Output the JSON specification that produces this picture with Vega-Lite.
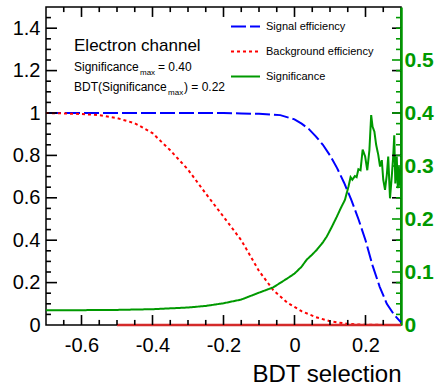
{
  "$schema": "https://vega.github.io/schema/vega-lite/v6.json",
  "width": 355,
  "height": 318,
  "autosize": {"type": "none"},
  "padding": {"left": 46, "top": 7, "right": 35, "bottom": 61},
  "background": "white",
  "config": {
    "font": "Liberation Sans",
    "view": {"stroke": "black", "strokeWidth": 1.5},
    "axis": {"grid": false, "domain": false, "ticks": false, "labelColor": "black", "labelFont": "Liberation Sans"},
    "legend": {
      "orient": "none", "legendX": 184, "legendY": 4, "direction": "vertical",
      "symbolType": "stroke", "symbolSize": 841, "symbolStrokeWidth": 2,
      "labelFont": "Liberation Sans", "labelFontSize": 11, "labelColor": "black",
      "labelOffset": 5, "rowPadding": 4, "padding": 0
    }
  },
  "datasets": {
    "xticks": [
      {"v": -0.65, "kind": "minor"}, {"v": -0.6, "kind": "major"}, {"v": -0.55, "kind": "minor"}, {"v": -0.5, "kind": "minor"},
      {"v": -0.45, "kind": "minor"}, {"v": -0.4, "kind": "major"}, {"v": -0.35, "kind": "minor"}, {"v": -0.3, "kind": "minor"},
      {"v": -0.25, "kind": "minor"}, {"v": -0.2, "kind": "major"}, {"v": -0.15, "kind": "minor"}, {"v": -0.1, "kind": "minor"},
      {"v": -0.05, "kind": "minor"}, {"v": 0, "kind": "major"}, {"v": 0.05, "kind": "minor"}, {"v": 0.1, "kind": "minor"},
      {"v": 0.15, "kind": "minor"}, {"v": 0.2, "kind": "major"}, {"v": 0.25, "kind": "minor"}
    ],
    "lticks": [
      {"v": 0.05, "kind": "minor"}, {"v": 0.1, "kind": "minor"}, {"v": 0.15, "kind": "minor"}, {"v": 0.2, "kind": "major"},
      {"v": 0.25, "kind": "minor"}, {"v": 0.3, "kind": "minor"}, {"v": 0.35, "kind": "minor"}, {"v": 0.4, "kind": "major"},
      {"v": 0.45, "kind": "minor"}, {"v": 0.5, "kind": "minor"}, {"v": 0.55, "kind": "minor"}, {"v": 0.6, "kind": "major"},
      {"v": 0.65, "kind": "minor"}, {"v": 0.7, "kind": "minor"}, {"v": 0.75, "kind": "minor"}, {"v": 0.8, "kind": "major"},
      {"v": 0.85, "kind": "minor"}, {"v": 0.9, "kind": "minor"}, {"v": 0.95, "kind": "minor"}, {"v": 1.0, "kind": "major"},
      {"v": 1.05, "kind": "minor"}, {"v": 1.1, "kind": "minor"}, {"v": 1.15, "kind": "minor"}, {"v": 1.2, "kind": "major"},
      {"v": 1.25, "kind": "minor"}, {"v": 1.3, "kind": "minor"}, {"v": 1.35, "kind": "minor"}, {"v": 1.4, "kind": "major"},
      {"v": 1.45, "kind": "minor"}
    ],
    "rticks": [
      {"v": 0.02, "kind": "minor"}, {"v": 0.04, "kind": "minor"}, {"v": 0.06, "kind": "minor"}, {"v": 0.08, "kind": "minor"}, {"v": 0.1, "kind": "major"},
      {"v": 0.12, "kind": "minor"}, {"v": 0.14, "kind": "minor"}, {"v": 0.16, "kind": "minor"}, {"v": 0.18, "kind": "minor"}, {"v": 0.2, "kind": "major"},
      {"v": 0.22, "kind": "minor"}, {"v": 0.24, "kind": "minor"}, {"v": 0.26, "kind": "minor"}, {"v": 0.28, "kind": "minor"}, {"v": 0.3, "kind": "major"},
      {"v": 0.32, "kind": "minor"}, {"v": 0.34, "kind": "minor"}, {"v": 0.36, "kind": "minor"}, {"v": 0.38, "kind": "minor"}, {"v": 0.4, "kind": "major"},
      {"v": 0.42, "kind": "minor"}, {"v": 0.44, "kind": "minor"}, {"v": 0.46, "kind": "minor"}, {"v": 0.48, "kind": "minor"}, {"v": 0.5, "kind": "major"},
      {"v": 0.52, "kind": "minor"}, {"v": 0.54, "kind": "minor"}, {"v": 0.56, "kind": "minor"}, {"v": 0.58, "kind": "minor"}
    ],
    "curves": [
      {"series": "Signal efficiency", "x": -0.7, "v": 1.0},
      {"series": "Signal efficiency", "x": -0.5, "v": 1.0},
      {"series": "Signal efficiency", "x": -0.3, "v": 1.0},
      {"series": "Signal efficiency", "x": -0.2, "v": 0.9995},
      {"series": "Signal efficiency", "x": -0.15, "v": 0.998},
      {"series": "Signal efficiency", "x": -0.1, "v": 0.996},
      {"series": "Signal efficiency", "x": -0.04, "v": 0.99},
      {"series": "Signal efficiency", "x": 0.0, "v": 0.97},
      {"series": "Signal efficiency", "x": 0.02, "v": 0.95},
      {"series": "Signal efficiency", "x": 0.04, "v": 0.925},
      {"series": "Signal efficiency", "x": 0.06, "v": 0.89},
      {"series": "Signal efficiency", "x": 0.08, "v": 0.85},
      {"series": "Signal efficiency", "x": 0.1, "v": 0.80},
      {"series": "Signal efficiency", "x": 0.12, "v": 0.74},
      {"series": "Signal efficiency", "x": 0.14, "v": 0.67},
      {"series": "Signal efficiency", "x": 0.16, "v": 0.59},
      {"series": "Signal efficiency", "x": 0.18, "v": 0.50},
      {"series": "Signal efficiency", "x": 0.2, "v": 0.40},
      {"series": "Signal efficiency", "x": 0.22, "v": 0.28},
      {"series": "Signal efficiency", "x": 0.24, "v": 0.18},
      {"series": "Signal efficiency", "x": 0.26, "v": 0.10},
      {"series": "Signal efficiency", "x": 0.28, "v": 0.05},
      {"series": "Signal efficiency", "x": 0.3, "v": 0.012},
      {"series": "Background efficiency", "x": -0.7, "v": 1.0},
      {"series": "Background efficiency", "x": -0.65, "v": 0.998},
      {"series": "Background efficiency", "x": -0.6, "v": 0.995},
      {"series": "Background efficiency", "x": -0.55, "v": 0.99},
      {"series": "Background efficiency", "x": -0.5, "v": 0.976},
      {"series": "Background efficiency", "x": -0.45, "v": 0.952},
      {"series": "Background efficiency", "x": -0.4, "v": 0.905},
      {"series": "Background efficiency", "x": -0.35, "v": 0.824},
      {"series": "Background efficiency", "x": -0.3, "v": 0.733},
      {"series": "Background efficiency", "x": -0.25, "v": 0.62},
      {"series": "Background efficiency", "x": -0.2, "v": 0.511},
      {"series": "Background efficiency", "x": -0.15, "v": 0.40},
      {"series": "Background efficiency", "x": -0.1, "v": 0.255},
      {"series": "Background efficiency", "x": -0.06, "v": 0.165},
      {"series": "Background efficiency", "x": -0.02, "v": 0.105},
      {"series": "Background efficiency", "x": 0.02, "v": 0.065},
      {"series": "Background efficiency", "x": 0.06, "v": 0.037},
      {"series": "Background efficiency", "x": 0.1, "v": 0.018},
      {"series": "Background efficiency", "x": 0.15, "v": 0.005},
      {"series": "Background efficiency", "x": 0.2, "v": 0.001},
      {"series": "Background efficiency", "x": 0.3, "v": 0.0},
      {"series": "Significance", "x": -0.7, "v": 0.028},
      {"series": "Significance", "x": -0.6, "v": 0.028},
      {"series": "Significance", "x": -0.5, "v": 0.0285},
      {"series": "Significance", "x": -0.4, "v": 0.0298},
      {"series": "Significance", "x": -0.3, "v": 0.033},
      {"series": "Significance", "x": -0.25, "v": 0.036},
      {"series": "Significance", "x": -0.2, "v": 0.041},
      {"series": "Significance", "x": -0.15, "v": 0.048},
      {"series": "Significance", "x": -0.1, "v": 0.061},
      {"series": "Significance", "x": -0.06, "v": 0.071},
      {"series": "Significance", "x": -0.02, "v": 0.088},
      {"series": "Significance", "x": 0.0, "v": 0.097},
      {"series": "Significance", "x": 0.02, "v": 0.11},
      {"series": "Significance", "x": 0.034, "v": 0.123},
      {"series": "Significance", "x": 0.05, "v": 0.133},
      {"series": "Significance", "x": 0.063, "v": 0.142},
      {"series": "Significance", "x": 0.08, "v": 0.156},
      {"series": "Significance", "x": 0.091, "v": 0.167},
      {"series": "Significance", "x": 0.105, "v": 0.185},
      {"series": "Significance", "x": 0.119, "v": 0.204},
      {"series": "Significance", "x": 0.13, "v": 0.22},
      {"series": "Significance", "x": 0.142, "v": 0.236},
      {"series": "Significance", "x": 0.152, "v": 0.261},
      {"series": "Significance", "x": 0.158, "v": 0.279},
      {"series": "Significance", "x": 0.163, "v": 0.274},
      {"series": "Significance", "x": 0.17, "v": 0.281},
      {"series": "Significance", "x": 0.175, "v": 0.279},
      {"series": "Significance", "x": 0.18, "v": 0.294},
      {"series": "Significance", "x": 0.186, "v": 0.292},
      {"series": "Significance", "x": 0.192, "v": 0.331},
      {"series": "Significance", "x": 0.199, "v": 0.318},
      {"series": "Significance", "x": 0.205, "v": 0.292},
      {"series": "Significance", "x": 0.211, "v": 0.33},
      {"series": "Significance", "x": 0.216, "v": 0.396},
      {"series": "Significance", "x": 0.22, "v": 0.374},
      {"series": "Significance", "x": 0.225, "v": 0.365},
      {"series": "Significance", "x": 0.23, "v": 0.34},
      {"series": "Significance", "x": 0.236, "v": 0.321},
      {"series": "Significance", "x": 0.241, "v": 0.299},
      {"series": "Significance", "x": 0.246, "v": 0.311},
      {"series": "Significance", "x": 0.25, "v": 0.274},
      {"series": "Significance", "x": 0.255, "v": 0.255},
      {"series": "Significance", "x": 0.26, "v": 0.283},
      {"series": "Significance", "x": 0.264, "v": 0.318},
      {"series": "Significance", "x": 0.269, "v": 0.239},
      {"series": "Significance", "x": 0.274, "v": 0.28},
      {"series": "Significance", "x": 0.278, "v": 0.318},
      {"series": "Significance", "x": 0.281, "v": 0.358},
      {"series": "Significance", "x": 0.284, "v": 0.267},
      {"series": "Significance", "x": 0.288, "v": 0.318},
      {"series": "Significance", "x": 0.291, "v": 0.258},
      {"series": "Significance", "x": 0.294, "v": 0.299},
      {"series": "Significance", "x": 0.296, "v": 0.267},
      {"series": "Significance", "x": 0.299, "v": 0.26}
    ],
    "zero": [
      {"x": -0.5, "v": 0},
      {"x": 0.3, "v": 0}
    ],
    "title": [
      {"x": -0.6211, "y": 1.294, "t": "Electron channel"}
    ],
    "notes": [
      {"x": -0.6211, "y": 1.198, "t": "Significance"},
      {"x": -0.3845, "y": 1.198, "t": "= 0.40"},
      {"x": -0.6211, "y": 1.102, "t": "BDT(Significance"},
      {"x": -0.3113, "y": 1.102, "t": ") = 0.22"}
    ],
    "subs": [
      {"x": -0.4352, "y": 1.181, "t": "max"},
      {"x": -0.3563, "y": 1.083, "t": "max"}
    ]
  },
  "layer": [
    {
      "data": {"name": "curves"},
      "transform": [{"filter": "datum.series == 'Signal efficiency'"}],
      "mark": {"type": "line", "strokeWidth": 2},
      "encoding": {
        "x": {"field": "x", "type": "quantitative", "scale": {"domain": [-0.7, 0.3], "nice": false, "zero": false},
          "axis": {"orient": "bottom", "values": [-0.6, -0.4, -0.2, 0, 0.2], "labelFontSize": 20, "labelPadding": 10,
            "labelExpr": "toString(datum.value)", "title": "BDT selection", "titleFontSize": 24, "titleFontWeight": "normal",
            "titleFont": "Liberation Sans", "titleColor": "black", "titleAlign": "right", "titleAnchor": "end", "titleX": 355, "titleY": 56, "titleBaseline": "alphabetic"}},
        "y": {"field": "v", "type": "quantitative", "scale": {"domain": [0, 1.5], "nice": false},
          "axis": {"orient": "left", "values": [0, 0.2, 0.4, 0.6, 0.8, 1, 1.2, 1.4], "labelFontSize": 20, "labelPadding": 6,
            "labelExpr": "toString(datum.value)", "title": null}},
        "color": {"field": "series", "type": "nominal", "title": null,
          "scale": {"domain": ["Signal efficiency", "Background efficiency", "Significance"], "range": ["#0000ff", "#ff0000", "#009900"]}},
        "strokeDash": {"field": "series", "type": "nominal", "title": null,
          "scale": {"domain": ["Signal efficiency", "Background efficiency", "Significance"], "range": [[15, 4], [3, 3], [1, 0]]}}
      }
    },
    {
      "data": {"name": "curves"},
      "transform": [{"filter": "datum.series == 'Background efficiency'"}],
      "mark": {"type": "line", "strokeWidth": 2},
      "encoding": {
        "x": {"field": "x", "type": "quantitative", "scale": {"domain": [-0.7, 0.3], "nice": false, "zero": false}, "axis": null},
        "y": {"field": "v", "type": "quantitative", "scale": {"domain": [0, 1.5], "nice": false}, "axis": null},
        "color": {"field": "series", "type": "nominal", "title": null,
          "scale": {"domain": ["Signal efficiency", "Background efficiency", "Significance"], "range": ["#0000ff", "#ff0000", "#009900"]}},
        "strokeDash": {"field": "series", "type": "nominal", "title": null,
          "scale": {"domain": ["Signal efficiency", "Background efficiency", "Significance"], "range": [[15, 4], [3, 3], [1, 0]]}}
      }
    },
    {
      "data": {"name": "curves"},
      "transform": [{"filter": "datum.series == 'Significance'"}],
      "mark": {"type": "line", "strokeWidth": 2},
      "encoding": {
        "x": {"field": "x", "type": "quantitative", "scale": {"domain": [-0.7, 0.3], "nice": false, "zero": false}, "axis": null},
        "y": {"field": "v", "type": "quantitative", "scale": {"domain": [0, 0.6], "nice": false},
          "axis": {"orient": "right", "values": [0, 0.1, 0.2, 0.3, 0.4, 0.5], "labelColor": "#009900",
            "labelFontWeight": "bold", "labelFontSize": 21, "labelPadding": 3, "labelExpr": "toString(datum.value)",
            "domain": true, "domainColor": "#009900", "domainWidth": 2.5, "title": null}},
        "color": {"field": "series", "type": "nominal", "title": null,
          "scale": {"domain": ["Signal efficiency", "Background efficiency", "Significance"], "range": ["#0000ff", "#ff0000", "#009900"]}},
        "strokeDash": {"field": "series", "type": "nominal", "title": null,
          "scale": {"domain": ["Signal efficiency", "Background efficiency", "Significance"], "range": [[15, 4], [3, 3], [1, 0]]}}
      }
    },
    {
      "data": {"name": "zero"},
      "mark": {"type": "line", "strokeWidth": 2.5, "color": "#d42a2a"},
      "encoding": {
        "x": {"field": "x", "type": "quantitative", "scale": {"domain": [-0.7, 0.3], "nice": false, "zero": false}, "axis": null},
        "y": {"field": "v", "type": "quantitative", "scale": {"domain": [0, 1.5], "nice": false}, "axis": null}
      }
    },
    {
      "data": {"name": "xticks"},
      "transform": [{"filter": "datum.kind == 'major'"}],
      "mark": {"type": "rule", "color": "#000000", "strokeWidth": 1.6},
      "encoding": {
        "x": {"field": "v", "type": "quantitative", "scale": {"domain": [-0.7, 0.3], "nice": false, "zero": false}, "axis": null},
        "y": {"datum": 0, "type": "quantitative", "scale": {"domain": [0, 1.5], "nice": false}, "axis": null},
        "y2": {"datum": 0.047}
      }
    },
    {
      "data": {"name": "xticks"},
      "transform": [{"filter": "datum.kind == 'minor'"}],
      "mark": {"type": "rule", "color": "#000000", "strokeWidth": 1.6},
      "encoding": {
        "x": {"field": "v", "type": "quantitative", "scale": {"domain": [-0.7, 0.3], "nice": false, "zero": false}, "axis": null},
        "y": {"datum": 0, "type": "quantitative", "scale": {"domain": [0, 1.5], "nice": false}, "axis": null},
        "y2": {"datum": 0.024}
      }
    },
    {
      "data": {"name": "xticks"},
      "transform": [{"filter": "datum.kind == 'major'"}],
      "mark": {"type": "rule", "color": "#000000", "strokeWidth": 1.6},
      "encoding": {
        "x": {"field": "v", "type": "quantitative", "scale": {"domain": [-0.7, 0.3], "nice": false, "zero": false}, "axis": null},
        "y": {"datum": 1.5, "type": "quantitative", "scale": {"domain": [0, 1.5], "nice": false}, "axis": null},
        "y2": {"datum": 1.453}
      }
    },
    {
      "data": {"name": "xticks"},
      "transform": [{"filter": "datum.kind == 'minor'"}],
      "mark": {"type": "rule", "color": "#000000", "strokeWidth": 1.6},
      "encoding": {
        "x": {"field": "v", "type": "quantitative", "scale": {"domain": [-0.7, 0.3], "nice": false, "zero": false}, "axis": null},
        "y": {"datum": 1.5, "type": "quantitative", "scale": {"domain": [0, 1.5], "nice": false}, "axis": null},
        "y2": {"datum": 1.476}
      }
    },
    {
      "data": {"name": "lticks"},
      "transform": [{"filter": "datum.kind == 'major'"}],
      "mark": {"type": "rule", "color": "#000000", "strokeWidth": 1.6},
      "encoding": {
        "x": {"datum": -0.7, "type": "quantitative", "scale": {"domain": [-0.7, 0.3], "nice": false, "zero": false}, "axis": null},
        "x2": {"datum": -0.669},
        "y": {"field": "v", "type": "quantitative", "scale": {"domain": [0, 1.5], "nice": false}, "axis": null}
      }
    },
    {
      "data": {"name": "lticks"},
      "transform": [{"filter": "datum.kind == 'minor'"}],
      "mark": {"type": "rule", "color": "#000000", "strokeWidth": 1.6},
      "encoding": {
        "x": {"datum": -0.7, "type": "quantitative", "scale": {"domain": [-0.7, 0.3], "nice": false, "zero": false}, "axis": null},
        "x2": {"datum": -0.686},
        "y": {"field": "v", "type": "quantitative", "scale": {"domain": [0, 1.5], "nice": false}, "axis": null}
      }
    },
    {
      "data": {"name": "lticks"},
      "transform": [{"filter": "datum.kind == 'major'"}],
      "mark": {"type": "rule", "color": "#000000", "strokeWidth": 1.6},
      "encoding": {
        "x": {"datum": 0.3, "type": "quantitative", "scale": {"domain": [-0.7, 0.3], "nice": false, "zero": false}, "axis": null},
        "x2": {"datum": 0.2746},
        "y": {"field": "v", "type": "quantitative", "scale": {"domain": [0, 1.5], "nice": false}, "axis": null}
      }
    },
    {
      "data": {"name": "rticks"},
      "transform": [{"filter": "datum.kind == 'major'"}],
      "mark": {"type": "rule", "color": "#009900", "strokeWidth": 1.6},
      "encoding": {
        "x": {"datum": 0.3, "type": "quantitative", "scale": {"domain": [-0.7, 0.3], "nice": false, "zero": false}, "axis": null},
        "x2": {"datum": 0.2746},
        "y": {"field": "v", "type": "quantitative", "scale": {"domain": [0, 0.6], "nice": false}, "axis": null}
      }
    },
    {
      "data": {"name": "rticks"},
      "transform": [{"filter": "datum.kind == 'minor'"}],
      "mark": {"type": "rule", "color": "#009900", "strokeWidth": 1.6},
      "encoding": {
        "x": {"datum": 0.3, "type": "quantitative", "scale": {"domain": [-0.7, 0.3], "nice": false, "zero": false}, "axis": null},
        "x2": {"datum": 0.2859},
        "y": {"field": "v", "type": "quantitative", "scale": {"domain": [0, 0.6], "nice": false}, "axis": null}
      }
    },
    {
      "data": {"name": "title"},
      "mark": {"type": "text", "align": "left", "baseline": "alphabetic", "fontSize": 17, "font": "Liberation Sans", "color": "black"},
      "encoding": {
        "x": {"field": "x", "type": "quantitative", "scale": {"domain": [-0.7, 0.3], "nice": false, "zero": false}, "axis": null},
        "y": {"field": "y", "type": "quantitative", "scale": {"domain": [0, 1.5], "nice": false}, "axis": null},
        "text": {"field": "t"}
      }
    },
    {
      "data": {"name": "notes"},
      "mark": {"type": "text", "align": "left", "baseline": "alphabetic", "fontSize": 12, "font": "Liberation Sans", "color": "black"},
      "encoding": {
        "x": {"field": "x", "type": "quantitative", "scale": {"domain": [-0.7, 0.3], "nice": false, "zero": false}, "axis": null},
        "y": {"field": "y", "type": "quantitative", "scale": {"domain": [0, 1.5], "nice": false}, "axis": null},
        "text": {"field": "t"}
      }
    },
    {
      "data": {"name": "subs"},
      "mark": {"type": "text", "align": "left", "baseline": "alphabetic", "fontSize": 8, "font": "Liberation Sans", "color": "black"},
      "encoding": {
        "x": {"field": "x", "type": "quantitative", "scale": {"domain": [-0.7, 0.3], "nice": false, "zero": false}, "axis": null},
        "y": {"field": "y", "type": "quantitative", "scale": {"domain": [0, 1.5], "nice": false}, "axis": null},
        "text": {"field": "t"}
      }
    }
  ],
  "resolve": {"scale": {"y": "independent"}, "axis": {"x": "independent", "y": "independent"}}
}
